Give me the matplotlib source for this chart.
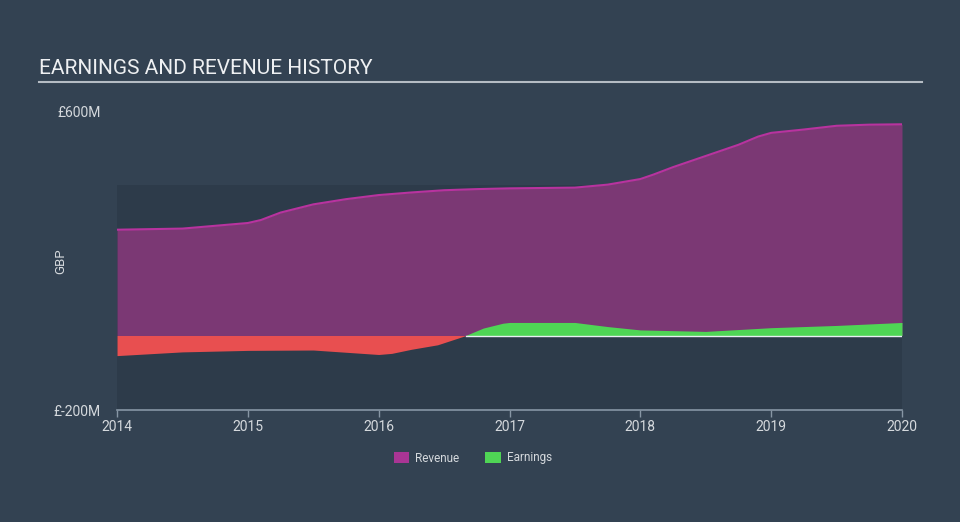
import matplotlib.pyplot as plt
import numpy as np
from matplotlib.patches import Rectangle, Patch

plt.rcParams['font.family'] = ['Roboto', 'DejaVu Sans']

# revenue (GBP millions)
rev_x = [2014.0, 2014.5, 2015.0, 2015.1, 2015.25, 2015.5, 2015.75, 2016.0, 2016.25, 2016.5,
         2016.75, 2017.0, 2017.5, 2017.75, 2018.0, 2018.1, 2018.25, 2018.5, 2018.75,
         2018.9, 2019.0, 2019.25, 2019.5, 2019.75, 2020.0]
rev_y = [284, 287, 302, 310, 330, 352, 366, 377, 384, 390,
         393, 395, 397, 405, 420, 432, 452, 482, 512,
         534, 544, 553, 563, 566, 567]

# earnings (GBP millions)
earn_x = [2014.0, 2014.5, 2015.0, 2015.5, 2015.75, 2016.0, 2016.1, 2016.25, 2016.45,
          2016.65, 2016.8, 2016.95, 2017.0, 2017.5, 2017.75, 2018.0, 2018.25, 2018.5,
          2018.75, 2019.0, 2019.5, 2020.0]
earn_y = [-54, -44, -40, -39, -45, -51, -48, -37, -25,
          -2, 20, 33, 35, 35, 24, 15, 13, 11,
          16, 21, 27, 35]

years = [2014, 2015, 2016, 2017, 2018, 2019, 2020]

bg = '#334252'
fig = plt.figure(figsize=(9.6, 5.22), dpi=100, facecolor=bg)

ax = fig.add_axes([117 / 960, 1 - 410 / 522, 785 / 960, 298 / 522])
ax.set_facecolor('none')
ax.set_xlim(2014, 2020)
ax.set_ylim(-200, 600)

# darker panel behind the data
ax.add_patch(Rectangle((0, 0), 1, 0.755, transform=ax.transAxes,
                       facecolor='#2d3b4a', edgecolor='none', zorder=0))

ax.fill_between(rev_x, 0, rev_y, color='#7b3874', lw=0, zorder=1)
ax.plot(rev_x, rev_y, color='#b8339f', lw=1.5, zorder=2)

ex = np.array(earn_x, dtype=float)
ey = np.array(earn_y, dtype=float)
ax.fill_between(ex, 0, ey, where=ey <= 0, interpolate=True, color='#e84f50', lw=0, zorder=3)
ax.fill_between(ex, 0, ey, where=ey >= 0, interpolate=True, color='#4fd555', lw=0, zorder=3)
ax.axhline(0, xmin=(2016.67 - 2014) / 6, xmax=1, color='#e8eef2', lw=1, zorder=4)

for s in ['top', 'right', 'left']:
    ax.spines[s].set_visible(False)
ax.spines['bottom'].set_color('#8796a5')
ax.spines['bottom'].set_linewidth(1.2)

ax.set_xticks(years)
ax.set_xticklabels([str(y) for y in years])
ax.tick_params(axis='x', colors='#8796a5', labelcolor='#d5d9dd', length=5,
               width=1, labelsize=10, pad=2)
ax.set_yticks([-200, 600])
ax.set_yticklabels(['£-200M', '£600M'])
ax.tick_params(axis='y', length=0, labelcolor='#d5d9dd', labelsize=10, pad=12)
ax.set_ylabel('GBP', color='#d5d9dd', fontsize=9.5)
ax.yaxis.set_label_coords(-0.063, 0.5)

fig.text(39 / 960, 1 - 68 / 522, 'EARNINGS AND REVENUE HISTORY', color='#eef0f2',
         fontsize=15, va='center', ha='left')
fig.add_artist(plt.Line2D([39 / 960, 922 / 960], [1 - 82 / 522, 1 - 82 / 522],
                          color='#b5bcc4', lw=1.5))

handles = [Patch(facecolor='#a93594', label='Revenue'),
           Patch(facecolor='#4fd555', label='Earnings')]
fig.legend(handles=handles, loc='center', bbox_to_anchor=(473 / 960, 1 - 458 / 522),
           ncol=2, frameon=False, fontsize=8.5, labelcolor='#d5d9dd',
           handlelength=1.3, handleheight=1.0, columnspacing=2.2, handletextpad=0.5)

fig.savefig('out.png', dpi=100, facecolor=bg)
